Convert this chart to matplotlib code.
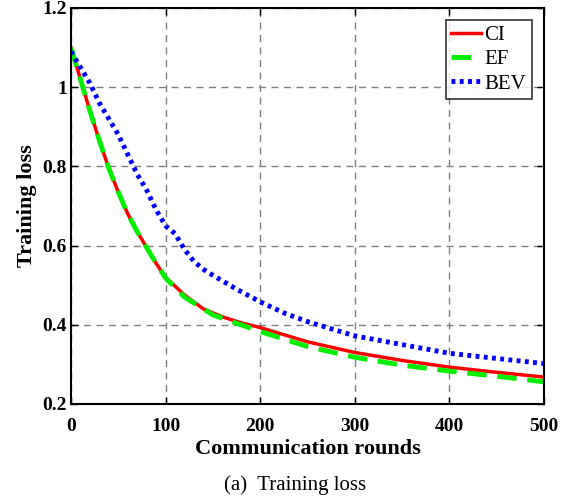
import matplotlib
matplotlib.use("Agg")
import matplotlib.pyplot as plt

plt.rcParams['font.family'] = ['Liberation Serif', 'DejaVu Serif']
plt.rcParams['mathtext.fontset'] = 'stix'

# communication rounds and training loss
rounds_ci = [0, 10, 20, 30, 40, 50, 60, 70, 80, 90, 100, 120, 140, 160, 180, 200, 250, 300, 350, 400, 450, 500]
loss_ci = [1.10, 1.02, 0.94, 0.865, 0.795, 0.735, 0.68, 0.635, 0.595, 0.555, 0.52, 0.475, 0.44, 0.42, 0.405, 0.393, 0.357, 0.33, 0.31, 0.293, 0.28, 0.268]

rounds_ef = [0, 10, 20, 30, 40, 50, 60, 70, 80, 90, 100, 120, 150, 200, 250, 300, 350, 400, 450, 500]
loss_ef = [1.10, 1.02, 0.94, 0.865, 0.795, 0.735, 0.68, 0.635, 0.595, 0.555, 0.518, 0.47, 0.425, 0.383, 0.345, 0.318, 0.298, 0.283, 0.27, 0.256]

rounds_bev = [0, 10, 20, 30, 40, 50, 60, 70, 80, 90, 100, 110, 120, 130, 140, 150, 175, 200, 225, 250, 275, 300, 350, 400, 450, 500]
loss_bev = [1.09, 1.05, 1.01, 0.96, 0.92, 0.88, 0.83, 0.78, 0.74, 0.69, 0.65, 0.63, 0.59, 0.56, 0.54, 0.525, 0.49, 0.458, 0.43, 0.408, 0.39, 0.372, 0.35, 0.328, 0.315, 0.302]

fig = plt.figure(figsize=(5.75, 4.99), dpi=100)
ax = fig.add_axes([0.1235, 0.1904, 0.8226, 0.7936])

ax.plot(rounds_ci, loss_ci, color='red', lw=2.5, label='CI')
ax.plot(rounds_ef, loss_ef, color='#00ee00', lw=3.5, ls=(0, (4, 2.2)), label='EF')
ax.plot(rounds_bev, loss_bev, color='blue', lw=3.5, ls=(0, (0.8, 0.9)), label='BEV')

ax.set_xlim(0, 500)
ax.set_ylim(0.2, 1.2)
ax.set_xticks([0, 100, 200, 300, 400, 500])
ax.set_yticks([0.2, 0.4, 0.6, 0.8, 1.0, 1.2])
ax.set_yticklabels(['0.2', '0.4', '0.6', '0.8', '1', '1.2'])
ax.grid(True, ls=(0, (5, 4)), color='#808080', lw=1)
ax.tick_params(direction='in', top=True, right=True, labelsize=14, length=5, width=1, pad=3)
ax.tick_params(axis='x', pad=10)
for lab in ax.get_xticklabels() + ax.get_yticklabels():
    lab.set_fontweight('bold')
for s in ax.spines.values():
    s.set_linewidth(1.5)

ax.set_xlabel('Communication rounds', fontsize=16, fontweight='bold', labelpad=3)
ax.set_ylabel('Training loss', fontsize=16, fontweight='bold', labelpad=4)

leg = ax.legend(loc='upper right', fontsize=15, frameon=True, fancybox=False,
                edgecolor='black', handlelength=1.45, handletextpad=0.15,
                borderpad=0.25, labelspacing=0.22, borderaxespad=0.6)
leg.get_frame().set_linewidth(1.2)

fig.text(0.514, 0.028, '(a)  Training loss', ha='center', va='center', fontsize=15)

fig.savefig('out.png', dpi=100)
